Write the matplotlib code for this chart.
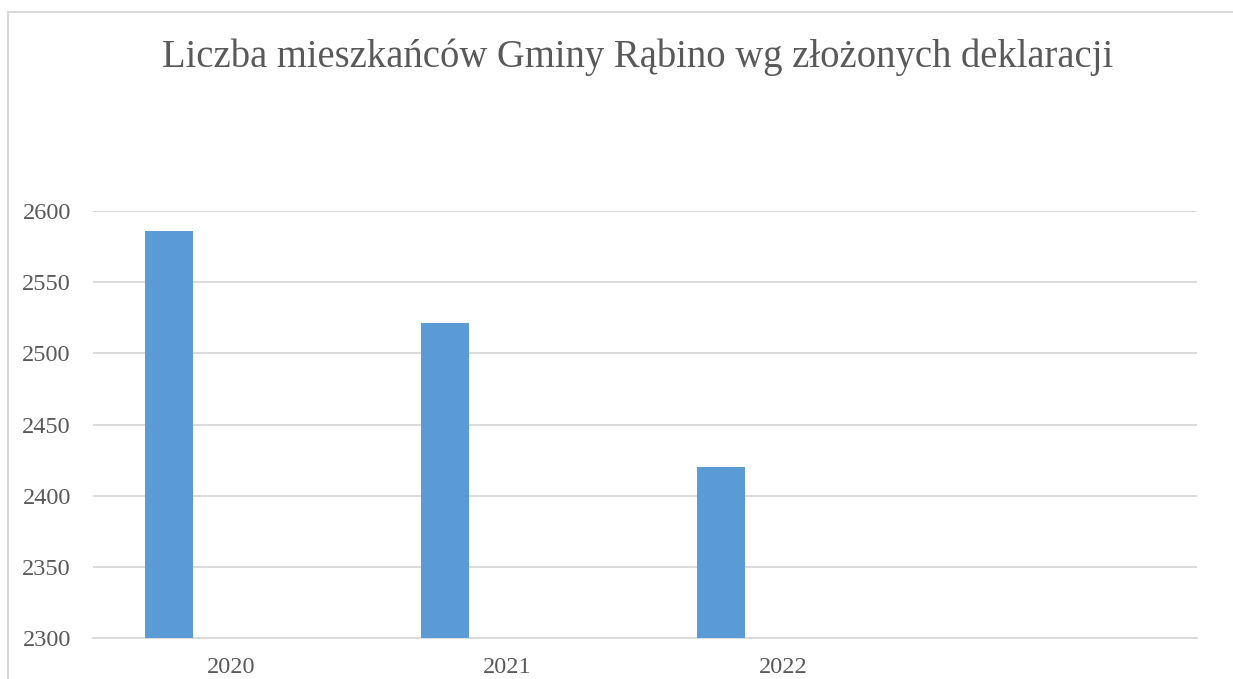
import matplotlib.pyplot as plt
from matplotlib.patches import Rectangle

# dane z wykresu
lata = ["2020", "2021", "2022", ""]
mieszkancy = [2586, 2521, 2420]
y_ticks = [2300, 2350, 2400, 2450, 2500, 2550, 2600]

plt.rcParams['font.family'] = ['Liberation Serif', 'DejaVu Serif']
text_color = "#595959"
grid_color = "#D9D9D9"

fig = plt.figure(figsize=(12.33, 6.79), dpi=100)
ax = fig.add_axes([93 / 1233, 1 - 638 / 679, (1197 - 93) / 1233, (638 - 211) / 679])

# slupki przesuniete w lewo wewnatrz kategorii (druga seria pusta)
x = [i - 0.225 for i in range(len(mieszkancy))]
ax.bar(x, [v - 2300 for v in mieszkancy], width=0.174, bottom=2300, color="#5B9BD5", zorder=3)

ax.set_xlim(-0.5, len(lata) - 0.5)
ax.set_ylim(2300, 2600)
ax.set_xticks(range(len(lata)))
ax.set_xticklabels(lata)
ax.set_yticks(y_ticks)
ax.grid(axis="y", color=grid_color, linewidth=1.3, zorder=0)
for s in ["top", "right", "left"]:
    ax.spines[s].set_visible(False)
ax.spines["bottom"].set_color(grid_color)
ax.spines["bottom"].set_linewidth(1.3)
ax.tick_params(axis="both", length=0, colors=text_color, labelsize=17.5)
ax.tick_params(axis="y", pad=16)
ax.tick_params(axis="x", pad=14)

fig.text(0.517, 1 - 57 / 679, "Liczba mieszkańców Gminy Rąbino wg złożonych deklaracji",
         ha="center", va="center", fontsize=27.8, color=text_color)

# ramka obszaru wykresu (widoczna tylko gora i lewa strona)
fig.add_artist(Rectangle((8 / 1233, -0.1), 1.1, 1.1 - 13 / 679 + 0.001,
                         transform=fig.transFigure, fill=False,
                         edgecolor=grid_color, linewidth=1.5, clip_on=False))

fig.savefig("out.png", dpi=100)
